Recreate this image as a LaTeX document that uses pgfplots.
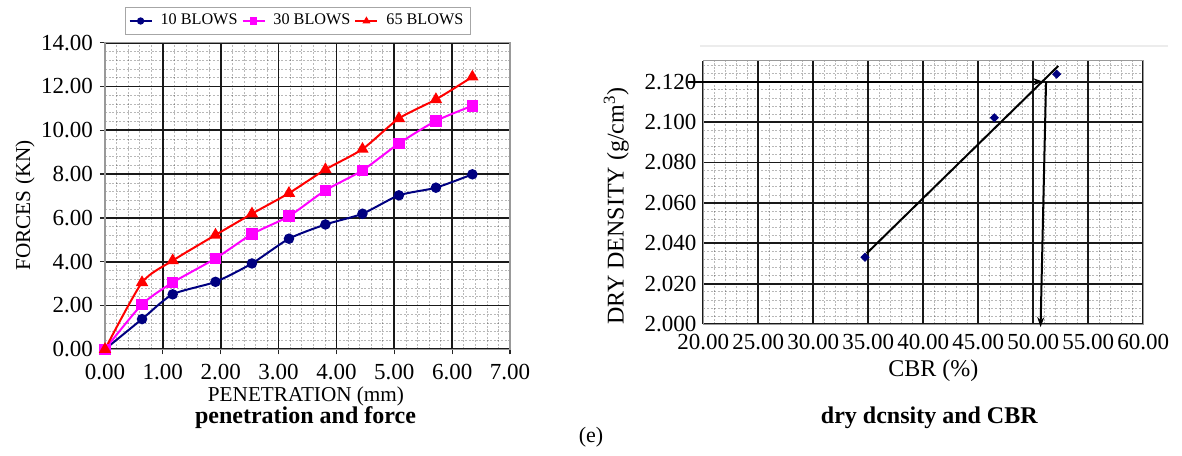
\documentclass[border=0pt]{standalone}
\usepackage{fontspec}
\setmainfont{Liberation Serif}
\usepackage{pgfplots}
\pgfplotsset{compat=1.18}
\usetikzlibrary{arrows.meta}
\definecolor{blowsA}{HTML}{000080}
\definecolor{blowsB}{HTML}{FF00FF}
\definecolor{blowsC}{HTML}{FF0000}
\newcommand{\fs}[1]{\fontsize{#1}{#1}\selectfont}

\pgfplotsset{
  excelgrid/.style={
    scale only axis, clip=false,
    axis line style={gray!80, line width=0.6bp},
    grid=both,
    major grid style={black!90, line width=0.85bp},
    minor grid style={black, opacity=0.28, line width=0.3bp, dash pattern=on 1bp off 0.8bp},
    minor tick num=4, minor tick length=0pt,
    tick pos=left,
    /pgf/number format/assume math mode=true,
    /pgf/number format/fixed, /pgf/number format/fixed zerofill,
    tick label style={font=\fs{11.5bp}},
  },
}

\begin{document}
\begin{tikzpicture}
\path[use as bounding box] (-52.5bp,-53.35bp) rectangle (538.5bp,174.65bp);

% penetration and force
\begin{axis}[excelgrid,
  at={(0,0)}, anchor=south west,
  width=202.5bp, height=153.3bp,
  xmin=0, xmax=7, ymin=0, ymax=14,
  xtick distance=1, ytick distance=2,
  /pgf/number format/precision=2,
  tick align=outside, major tick length=2.5bp,
  tick style={black!85, line width=0.6bp},
  xticklabel style={yshift=-1.5bp},
  legend columns=3,
  legend style={at={(0.4765,1.0708)}, anchor=center, draw=gray!70,
    font=\fs{8.1bp}, inner sep=1.5bp,
    /tikz/every odd column/.append style={column sep=2bp}},
  legend image code/.code={\draw[#1,mark size=1.3bp,mark repeat=2,mark phase=2] plot coordinates {(0bp,0bp) (5.5bp,0bp) (11bp,0bp)};},
]
\addplot[blowsA, line width=1bp, smooth, tension=0.4, mark=*, mark size=2.1bp, mark options={solid}]
  coordinates {(0,0) (0.64,1.38) (1.17,2.51) (1.91,3.08) (2.54,3.92) (3.18,5.05)
               (3.81,5.70) (4.45,6.19) (5.08,7.03) (5.72,7.38) (6.35,7.99)};
\addplot[blowsB, line width=1bp, smooth, tension=0.4, mark=square*, mark size=2.4bp, mark options={solid}]
  coordinates {(0,0) (0.64,2.05) (1.17,3.05) (1.91,4.15) (2.54,5.26) (3.18,6.08)
               (3.81,7.26) (4.45,8.17) (5.08,9.40) (5.72,10.43) (6.35,11.12)};
\addplot[blowsC, line width=1bp, smooth, tension=0.4, mark=triangle*, mark size=2.6bp, mark options={solid}]
  coordinates {(0,0) (0.64,3.05) (1.17,4.05) (1.91,5.22) (2.54,6.19) (3.18,7.13)
               (3.81,8.21) (4.45,9.14) (5.08,10.54) (5.72,11.41) (6.35,12.44)};
\legend{10 BLOWS, 30 BLOWS, 65 BLOWS}
\node[anchor=base, font=\fs{10.6bp}] at ([xshift=100.5bp,yshift=-26.2bp]rel axis cs:0,0) {PENETRATION (mm)};
\node[anchor=base, font=\fs{12bp}\bfseries] at ([xshift=100.25bp,yshift=-37bp]rel axis cs:0,0) {penetration and force};
\node[rotate=90, anchor=center, font=\fs{10.6bp}] at ([xshift=-40bp,yshift=72bp]rel axis cs:0,0) {FORCES (KN)};
\node[anchor=base, font=\fs{11bp}] at ([xshift=243bp,yshift=-46.4bp]rel axis cs:0,0) {(e)};
\end{axis}

% dry density and CBR
\begin{axis}[excelgrid,
  at={(299.15bp,12.6bp)}, anchor=south west,
  width=220bp, height=131.7bp,
  xmin=20, xmax=60, ymin=2.0, ymax=2.1304,
  xtick distance=5, ytick distance=0.02,
  major tick length=0pt,
  xticklabel style={/pgf/number format/precision=2, yshift=-1.5bp},
  yticklabel style={/pgf/number format/precision=3},
]
\draw[gray!15, line width=1bp] (axis cs:19.7,2.1376) -- (axis cs:62.2,2.1376);
\addplot[only marks, mark=square*, mark size=1.4bp, mark options={rotate=45}, color=blowsA]
  coordinates {(34.70,2.0331) (46.46,2.1022) (52.13,2.1237)};
\addplot[black, line width=1bp] coordinates {(34.85,2.0350) (52.27,2.1278)};
\addplot[black, line width=1.1bp, -{Stealth[length=5bp,width=3.5bp]}]
  coordinates {(18.6,2.12) (50.9,2.12)};
\addplot[black, line width=1bp, -{Stealth[length=5bp,width=3.5bp]}]
  coordinates {(51.16,2.12) (50.66,1.9985)};
\node[anchor=base, font=\fs{12bp}] at ([xshift=115bp,yshift=-26.3bp]rel axis cs:0,0) {CBR (\%)};
\node[anchor=base, font=\fs{12bp}\bfseries] at ([xshift=113bp,yshift=-49.5bp]rel axis cs:0,0) {dry dcnsity and CBR};
\node[rotate=90, anchor=center, font=\fs{12bp}] at ([xshift=-43.5bp,yshift=59bp]rel axis cs:0,0) {DRY DENSITY (g/cm\textsuperscript{3})};
\end{axis}
\end{tikzpicture}
\end{document}
